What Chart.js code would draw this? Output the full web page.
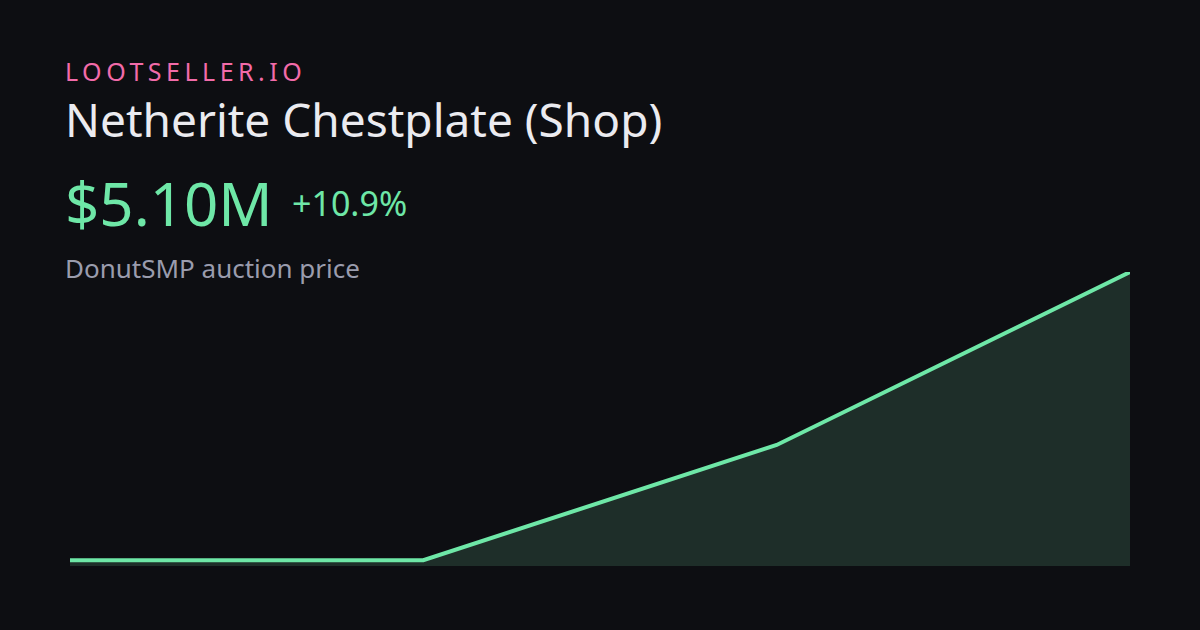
<!DOCTYPE html>
<html>
<head>
<meta charset="utf-8">
<script src="https://cdn.jsdelivr.net/npm/chart.js@4/dist/chart.umd.min.js"></script>
<style>
  html, body { margin: 0; padding: 0; }
  body {
    width: 1200px; height: 630px; overflow: hidden;
    background: #0d0e12;
    font-family: "Noto Sans", sans-serif;
    position: relative;
  }
  .txt { position: absolute; left: 65px; line-height: 1; white-space: nowrap; }
  #brand { top: 59px; font-size: 25px; letter-spacing: 4.5px; color: #f26ba9; }
  #title { top: 96px; font-size: 46px; color: #ebebf0; }
  #price { top: 173px; font-size: 60px; color: #6ee7a7; }
  #change { left: 292px; top: 186px; font-size: 34px; color: #6ee7a7; }
  #sub { top: 255px; font-size: 26px; color: #9a9cad; }
  #chart-box { position: absolute; left: 70px; top: 272px; width: 1060px; height: 294px; }
</style>
</head>
<body>
  <div class="txt" id="brand">LOOTSELLER.IO</div>
  <div class="txt" id="title">Netherite Chestplate (Shop)</div>
  <div class="txt" id="price">$5.10M</div>
  <div class="txt" id="change">+10.9%</div>
  <div class="txt" id="sub">DonutSMP auction price</div>
  <div id="chart-box"><canvas id="price-chart"></canvas></div>

<script>
  // price history, in millions
  const labels = ['p1', 'p2', 'p3', 'p4'];
  const prices = [4.60, 4.60, 4.80, 5.10];
  const yMin = 4.59;
  const yMax = 5.10;

  const ctx = document.getElementById('price-chart').getContext('2d');
  new Chart(ctx, {
    type: 'line',
    data: {
      labels: labels,
      datasets: [{
        data: prices,
        borderColor: '#6ee7a7',
        borderWidth: 4,
        borderCapStyle: 'round',
        backgroundColor: '#1e2e29',
        fill: 'start',
        tension: 0,
        pointRadius: 0,
        clip: false
      }]
    },
    options: {
      responsive: true,
      maintainAspectRatio: false,
      animation: false,
      layout: { padding: 0 },
      plugins: { legend: { display: false }, tooltip: { enabled: false } },
      scales: {
        x: { display: false, offset: false },
        y: { display: false, min: yMin, max: yMax }
      }
    }
  });
</script>
</body>
</html>
